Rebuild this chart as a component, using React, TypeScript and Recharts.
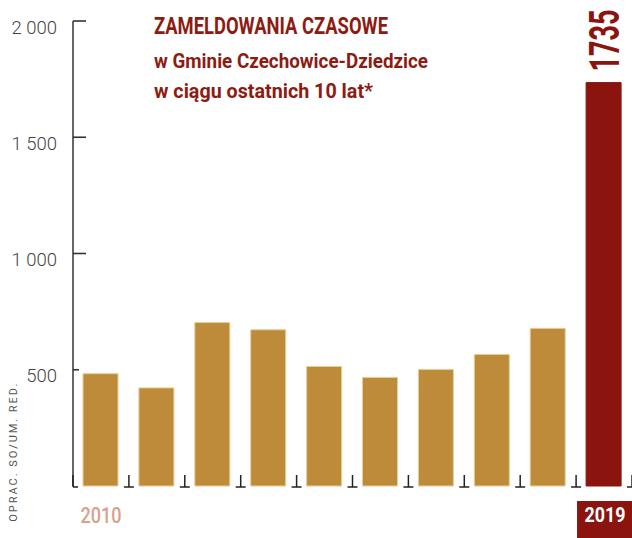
import React from 'react';
import { BarChart, Bar, XAxis, YAxis, Cell, LabelList } from 'recharts';

const years = ['2010', '2011', '2012', '2013', '2014', '2015', '2016', '2017', '2018', '2019'];
const registrations = [483, 422, 703, 672, 514, 467, 501, 566, 678, 1735];
const yTicks = [0, 500, 1000, 1500, 2000];
const titleLines = ['ZAMELDOWANIA CZASOWE', 'w Gminie Czechowice-Dziedzice', 'w ciągu ostatnich 10 lat*'];
const credit = 'OPRAC. SO/UM. RED.';

const data = years.map((year, i) => ({ year, value: registrations[i] }));

const GOLD = '#BE8B3A';
const GOLD_EDGE = '#EBCD96';
const RED = '#8B150E';
const TITLE_RED = '#8E1B12';
const FONT = 'Roboto, "Noto Sans", sans-serif';

const fmt = (v: number) => String(v).replace(/\B(?=(\d{3})+(?!\d))/g, ' ');

const YTick = (props: any) => {
  const { x, y, payload } = props;
  if (payload.value === 0) return null;
  const len = payload.value === 500 ? 6 : 13;
  return (
    <g>
      <line x1={x} x2={x + len} y1={y} y2={y} stroke="#333" strokeWidth={1.6} />
      <text x={x - 16} y={y + 12.7} textAnchor="end" fontSize={18.5} fontWeight={300} fill="#444" fontFamily={FONT}>
        {fmt(payload.value)}
      </text>
    </g>
  );
};

const XTick = (props: any) => {
  const { x, y, payload, index } = props;
  const half = payload && payload.offset ? payload.offset : 27.95;
  const last = years.length - 1;
  const bx = x + half;
  const mark = (
    <g stroke="#222" strokeWidth={1.5}>
      <line x1={bx} x2={bx} y1={y - 11} y2={y + 1} />
      <line x1={bx - 5} x2={bx + 5} y1={y + 1} y2={y + 1} />
    </g>
  );
  return (
    <g>
      {index === 0 && (
        <g stroke="#222" strokeWidth={1.5}>
          <line x1={x - half} x2={x - half} y1={y - 11} y2={y + 1} />
          <line x1={x - half} x2={x - half + 5} y1={y + 1} y2={y + 1} />
        </g>
      )}
      {mark}
      {index === 0 && (
        <text x={x} y={y + 36.7} textAnchor="middle" fontSize={22} fontWeight={500} fill="#D9A18B" fontFamily={FONT} textLength={41} lengthAdjust="spacingAndGlyphs">
          {payload.value}
        </text>
      )}
      {index === last && (
        <g>
          <rect x={x - 27} y={y + 15} width={55} height={37} fill={RED} />
          <text x={x + 1} y={y + 36.3} textAnchor="middle" fontSize={20.5} fontWeight={700} fill="#fff" fontFamily={FONT} textLength={41} lengthAdjust="spacingAndGlyphs">
            {payload.value}
          </text>
        </g>
      )}
    </g>
  );
};

const TopLabel = (props: any) => {
  const { x, y, width, value, index } = props;
  if (index !== registrations.length - 1) return null;
  const cx = Number(x) + Number(width) / 2 + 15.5;
  const cy = Number(y) - 11;
  return (
    <text
      transform={`translate(${cx},${cy}) rotate(-90)`}
      x={0}
      y={0}
      textAnchor="start"
      fontSize={42}
      fontWeight={700}
      fill={RED}
      fontFamily={FONT}
      textLength={62}
      lengthAdjust="spacingAndGlyphs"
    >
      {value}
    </text>
  );
};

export default function App() {
  return (
    <div style={{ position: 'absolute', left: 0, top: 0, width: 632, height: 538, background: '#fff', fontFamily: FONT }}>
      <BarChart width={632} height={538} data={data} margin={{ top: 21, right: 0, bottom: 0, left: 0 }} barSize={35}>
        <YAxis
          width={73}
          domain={[0, 2000]}
          ticks={yTicks}
          interval={0}
          tickSize={0}
          tickMargin={0}
          tickLine={false}
          axisLine={{ stroke: '#666', strokeWidth: 2 }}
          tick={<YTick />}
        />
        <XAxis
          dataKey="year"
          height={52}
          interval={0}
          tickSize={0}
          tickMargin={0}
          tickLine={false}
          axisLine={false}
          tick={<XTick />}
        />
        <Bar dataKey="value" isAnimationActive={false}>
          {data.map((d, i) => (
            <Cell
              key={d.year}
              fill={i === data.length - 1 ? RED : GOLD}
              stroke={i === data.length - 1 ? RED : GOLD_EDGE}
              strokeWidth={1}
            />
          ))}
          <LabelList dataKey="value" content={<TopLabel />} />
        </Bar>
      </BarChart>
      <svg width={632} height={538} style={{ position: 'absolute', left: 0, top: 0, pointerEvents: 'none' }}>
        <text x={154} y={34.3} fontSize={23} fontWeight={700} fill={TITLE_RED} fontFamily={FONT} textLength={234} lengthAdjust="spacingAndGlyphs">
          {titleLines[0]}
        </text>
        <text x={154} y={68.3} fontSize={20} fontWeight={700} fill={TITLE_RED} fontFamily={FONT} textLength={274} lengthAdjust="spacingAndGlyphs">
          {titleLines[1]}
        </text>
        <text x={154} y={98.3} fontSize={20} fontWeight={700} fill={TITLE_RED} fontFamily={FONT} textLength={219} lengthAdjust="spacingAndGlyphs">
          {titleLines[2]}
        </text>
        <text
          transform="translate(17.3,521.7) rotate(-90)"
          x={0}
          y={0}
          fontSize={11}
          fill="#555"
          fontFamily={FONT}
          textLength={138}
          lengthAdjust="spacing"
        >
          {credit}
        </text>
      </svg>
    </div>
  );
}
